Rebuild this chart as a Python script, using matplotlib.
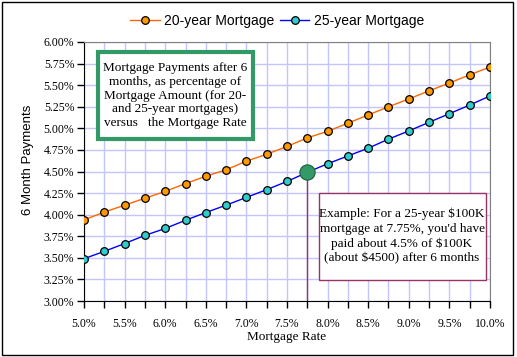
import matplotlib
matplotlib.use('Agg')
import matplotlib.pyplot as plt
from matplotlib.patches import Rectangle
from matplotlib.ticker import MultipleLocator, FuncFormatter

# data
rates = [5.0, 5.25, 5.5, 5.75, 6.0, 6.25, 6.5, 6.75, 7.0, 7.25, 7.5,
         7.75, 8.0, 8.25, 8.5, 8.75, 9.0, 9.25, 9.5, 9.75, 10.0]
pay_20yr = [3.94, 4.03, 4.11, 4.19, 4.27, 4.36, 4.445, 4.52, 4.62, 4.70, 4.79,
            4.89, 4.965, 5.06, 5.155, 5.25, 5.34, 5.435, 5.525, 5.62, 5.71]
pay_25yr = [3.49, 3.575, 3.665, 3.76, 3.84, 3.935, 4.025, 4.11, 4.20, 4.29, 4.385,
            4.49, 4.59, 4.68, 4.77, 4.875, 4.97, 5.07, 5.17, 5.27, 5.375]
example_rate = 7.75
example_pay = 4.49

serif = 'Liberation Serif'
sans = 'Liberation Sans'

W, H = 517, 357
fig = plt.figure(figsize=(W / 100, H / 100), dpi=100)
ax = fig.add_axes([84 / W, 1 - 301 / H, (490 - 84) / W, (301 - 42) / H])

ax.plot(rates, pay_20yr, color='#ff6600', lw=1, marker='o', ms=5.5,
        mfc='#ff9900', mec='black', mew=0.9, label='20-year Mortgage', zorder=3)
ax.plot(rates, pay_25yr, color='#0000ff', lw=1, marker='o', ms=5.5,
        mfc='#33cccc', mec='black', mew=0.9, label='25-year Mortgage', zorder=3)

# example marker + drop line
ax.vlines(example_rate, 3.0, example_pay, color='#993366', lw=1, zorder=2)
ax.plot([example_rate], [example_pay], 'o', ms=11, mfc='#339966', mec='#1f5f3f',
        mew=0.8, zorder=4)

ax.set_xlim(5.0, 10.0)
ax.set_ylim(3.0, 6.0)
ax.xaxis.set_major_locator(MultipleLocator(0.5))
ax.xaxis.set_minor_locator(MultipleLocator(0.25))
ax.yaxis.set_major_locator(MultipleLocator(0.25))
ax.xaxis.set_major_formatter(FuncFormatter(lambda v, p: f'{v:.1f}%'))
ax.yaxis.set_major_formatter(FuncFormatter(lambda v, p: f'{v:.2f}%'))

ax.grid(True, which='both', color='#c4c4ff', lw=1)
ax.set_axisbelow(True)
ax.tick_params(axis='both', which='both', direction='out', length=5,
               width=1, color='black')
ax.tick_params(axis='x', which='major', pad=7)
ax.tick_params(axis='y', pad=2)
for lab in ax.get_xticklabels() + ax.get_yticklabels():
    lab.set_fontfamily(serif)
    lab.set_fontsize(8.5)

for s in ['top', 'right']:
    ax.spines[s].set_color('#808080')
for s in ['left', 'bottom']:
    ax.spines[s].set_color('black')

fig.text(287 / W, 1 - 340 / H, 'Mortgage Rate', ha='center', va='baseline',
         family=serif, fontsize=9.5)
fig.text(28 / W, 1 - 160 / H, '6 Month Payments', rotation=90, ha='center',
         va='center', family=sans, fontsize=9.5)

fig.legend(loc='center', bbox_to_anchor=(277.5 / W, 1 - 21 / H), ncol=2,
           frameon=False, prop={'family': sans, 'size': 10},
           handlelength=2.1, handletextpad=0.35, columnspacing=0.4,
           borderaxespad=0)

# title box (green border)
fig.patches.append(Rectangle((97.5 / W, 1 - 139 / H), (253 - 97.5) / W, (139 - 52) / H,
                             transform=fig.transFigure, facecolor='white',
                             edgecolor='#339966', lw=3, zorder=5))
fig.text(175.5 / W, 1 - 95.5 / H,
         'Mortgage Payments after 6\nmonths, as percentage of\n'
         'Mortgage Amount (for 20-\nand 25-year mortgages)\nversus   the Mortgage Rate',
         ha='center', va='center', family=serif, fontsize=9.5, linespacing=1.2,
         zorder=6)

# example box (purple border)
fig.patches.append(Rectangle((318.5 / W, 1 - 279.5 / H), (485.5 - 318.5) / W, (279.5 - 192.5) / H,
                             transform=fig.transFigure, facecolor='white',
                             edgecolor='#993366', lw=1, zorder=5))
fig.text(402 / W, 1 - 236 / H,
         "Example: For a 25-year $100K\nmortgage at 7.75%, you'd have\n"
         "paid about 4.5% of $100K\n(about $4500) after 6 months",
         ha='center', va='center', family=serif, fontsize=9.5, linespacing=1.28,
         parse_math=False, zorder=6)

# outer border
fig.patches.append(Rectangle((2 / W, 2 / H), (513 - 2) / W, (355 - 2) / H,
                             transform=fig.transFigure, fill=False,
                             edgecolor='black', lw=1, zorder=7))

fig.savefig('out.png', dpi=100)
